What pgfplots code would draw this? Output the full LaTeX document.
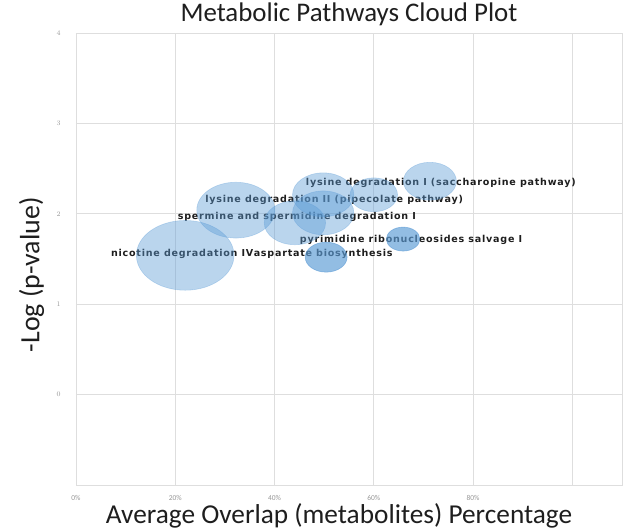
\documentclass[border=0pt]{standalone}
\usepackage{pgfplots}
\pgfplotsset{compat=1.18}
\usepackage{pgfplotstable}
\usepackage{fontspec}
\setmainfont{Carlito}
\newfontfamily\lblfont[LetterSpace=8]{DejaVu Sans}
\definecolor{bub}{RGB}{91,155,213}
\definecolor{gridc}{RGB}{222,222,222}
\definecolor{tickc}{RGB}{150,150,150}
\definecolor{txt}{RGB}{30,30,30}

\pgfplotstableread{
x y r
22.0 1.54 35
32.2 2.04 28
44.1 1.90 22
49.8 2.21 22
49.8 2.01 22
60.0 2.21 17
71.3 2.36 19
65.9 1.72 12
65.9 1.72 12
50.4 1.52 15
50.4 1.52 15
}\bubbles

\begin{document}
\begin{tikzpicture}
\begin{axis}[
  at={(0,0)}, anchor=south west,
  scale only axis, width=546bp, height=452bp,
  xmin=0, xmax=110, ymin=-1, ymax=4,
  xtick={0,20,40,60,80,100},
  xticklabels={0\%,20\%,40\%,60\%,80\%,},
  ytick={0,1,2,3,4},
  grid=major,
  grid style={gridc, line width=0.8pt},
  axis line style={gridc, line width=0.8pt},
  major tick length=0pt,
  tick label style={font=\fontsize{7.5}{8}\selectfont, text=tickc},
  xticklabel style={yshift=-7bp},
  yticklabel style={xshift=-12bp},
  title={Metabolic Pathways Cloud Plot},
  title style={at={(axis description cs:0.5,1)}, anchor=base, yshift=5bp, font=\fontsize{27}{30}\selectfont, text=txt},
  xlabel={Average Overlap (metabolites) Percentage},
  xlabel style={at={(axis description cs:0.5,0)}, anchor=base, yshift=-39bp, xshift=-10bp, font=\fontsize{27.4}{30}\selectfont, text=txt},
  ylabel={-Log (p-value)},
  ylabel style={at={(axis description cs:-0.067,0.465)}, anchor=base, font=\fontsize{28}{30}\selectfont, text=txt},
  clip=false,
]
\addplot[scatter, only marks, mark=*,
  scatter/use mapped color={draw=bub, fill=bub},
  visualization depends on={\thisrow{r} \as \rad},
  scatter/@pre marker code/.append style={/tikz/mark size=\rad},
  mark options={xscale=1.4, fill opacity=0.42, draw opacity=0.35, line width=0.6pt},
] table[x=x, y=y] {\bubbles};

\begin{scope}[every node/.style={font=\lblfont\bfseries\fontsize{9.6}{10}\selectfont, text=txt, inner sep=0pt}]
\node at (axis cs:73.5,2.34) {lysine degradation I (saccharopine pathway)};
\node at (axis cs:52.0,2.15) {lysine degradation II (pipecolate pathway)};
\node at (axis cs:44.5,1.96) {spermine and spermidine degradation I};
\node at (axis cs:67.5,1.71) {pyrimidine ribonucleosides salvage I};
\node at (axis cs:21.4,1.56) {nicotine degradation IV};
\node at (axis cs:49.8,1.56) {aspartate biosynthesis};
\end{scope}
\end{axis}
\path[use as bounding box] (-76bp,-46bp) rectangle (552bp,480bp);
\end{tikzpicture}
\end{document}
